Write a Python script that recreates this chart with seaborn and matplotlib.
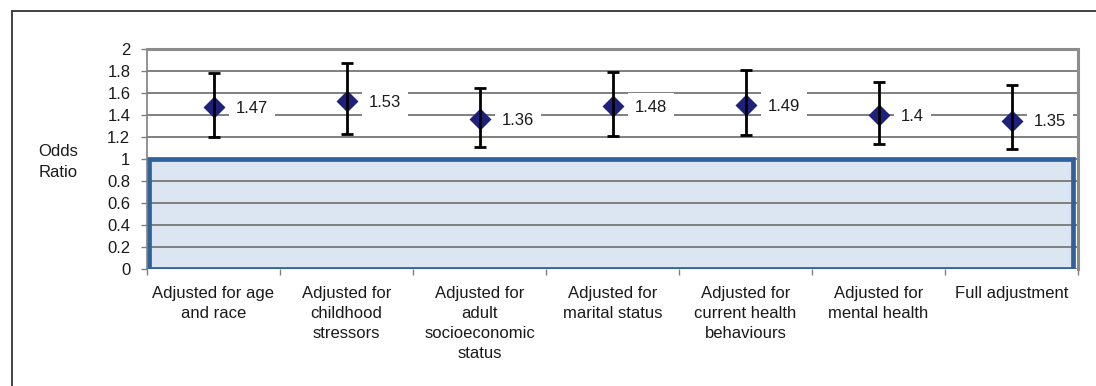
import matplotlib
matplotlib.use("Agg")
import matplotlib.pyplot as plt
from matplotlib.lines import Line2D
import numpy as np
import pandas as pd
import seaborn as sns

# Odds ratios for each adjustment model, with 95% confidence limits
models = [
    "Adjusted for age\nand race",
    "Adjusted for\nchildhood\nstressors",
    "Adjusted for\nadult\nsocioeconomic\nstatus",
    "Adjusted for\nmarital status",
    "Adjusted for\ncurrent health\nbehaviours",
    "Adjusted for\nmental health",
    "Full adjustment",
]
odds_ratio = [1.47, 1.53, 1.36, 1.48, 1.49, 1.40, 1.35]
ci_lower = [1.20, 1.23, 1.11, 1.21, 1.22, 1.14, 1.09]
ci_upper = [1.78, 1.87, 1.65, 1.79, 1.81, 1.70, 1.67]
value_labels = ["1.47", "1.53", "1.36", "1.48", "1.49", "1.4", "1.35"]
y_ticks = [0, 0.2, 0.4, 0.6, 0.8, 1, 1.2, 1.4, 1.6, 1.8, 2]
y_tick_labels = ["0", "0.2", "0.4", "0.6", "0.8", "1", "1.2", "1.4", "1.6", "1.8", "2"]

df = pd.DataFrame({"model": models, "or": odds_ratio,
                   "lo": ci_lower, "hi": ci_upper})

sns.set_theme(style="white")
plt.rcParams["font.family"] = ["Liberation Sans", "DejaVu Sans"]

W, H, DPI = 1096, 386, 100
fig = plt.figure(figsize=(W / DPI, H / DPI), dpi=DPI)
ax = fig.add_axes([147 / W, 1 - 269 / H, (1078 - 147) / W, (269 - 49) / H])

grid_grey = "#808080"
navy = "#1f1f7c"
box_blue = "#31619b"
text_col = "#1a1a1a"
fs = 12
line_sp = 1.43

# shaded region for odds ratios below 1
ax.axhspan(0, 1, xmin=0, xmax=0.997, facecolor="#dce6f2", edgecolor="none", zorder=1)
ax.axhspan(0, 1, xmin=0.002, xmax=0.995, facecolor="none", edgecolor=box_blue,
           linewidth=3.4, zorder=2.2)

# point estimates
sns.pointplot(data=df, x="model", y="or", order=models, linestyle="none",
              markers="D", color=navy, markersize=9, errorbar=None, ax=ax)

# confidence intervals
xpos = np.arange(len(models))
or_arr = np.array(odds_ratio)
yerr = np.vstack([or_arr - np.array(ci_lower), np.array(ci_upper) - or_arr])
ax.errorbar(xpos, or_arr, yerr=yerr, fmt="none", ecolor="black", elinewidth=2,
            capsize=4, capthick=2, zorder=4)
# markers sit on top of the bars
for c in ax.collections:
    c.set_zorder(6)

# value labels on white boxes that interrupt the grid
for x, y, lab in zip(xpos, odds_ratio, value_labels):
    ax.annotate(lab, (x, y), xytext=(16, -1), textcoords="offset points",
                ha="left", va="center", fontsize=fs, color=text_col,
                bbox=dict(boxstyle="square,pad=0.42", facecolor="white",
                          edgecolor="none"), zorder=3)

ax.set_xlim(-0.5, len(models) - 0.5)
ax.set_ylim(0, 2)
ax.set_yticks(y_ticks)
ax.set_yticklabels(y_tick_labels, fontsize=fs, color=text_col)
ax.set_xticks(xpos)
ax.set_xticklabels(models, fontsize=fs, color=text_col, linespacing=line_sp)
ax.set_xticks(np.arange(len(models) + 1) - 0.5, minor=True)
ax.tick_params(axis="x", which="major", length=0, pad=12)
ax.tick_params(axis="x", which="minor", length=4, width=1, color=grid_grey,
               direction="out", bottom=True)
ax.tick_params(axis="y", which="major", length=4, width=1, color=grid_grey,
               direction="out", left=True, pad=8)
ax.set_xlabel("")
ax.set_ylabel("Odds\nRatio", rotation=0, ha="center", va="center",
              fontsize=fs, color=text_col, linespacing=line_sp)
ax.yaxis.set_label_coords(-0.0956, 0.486)

ax.set_axisbelow("line")
ax.yaxis.grid(True, color=grid_grey, linewidth=1.4)
ax.xaxis.grid(False)

for side in ["top", "right"]:
    ax.spines[side].set_visible(True)
    ax.spines[side].set_color("#8c8c8c")
    ax.spines[side].set_linewidth(2.2)
ax.spines["left"].set_color(grid_grey)
ax.spines["left"].set_linewidth(1.2)
ax.spines["bottom"].set_visible(False)

# outer frame (top and left edges)
fig.add_artist(Line2D([11.5 / W, 11.5 / W], [0, 1 - 10.5 / H], transform=fig.transFigure,
                      color="#333333", linewidth=1.3))
fig.add_artist(Line2D([11.5 / W, 1], [1 - 10.5 / H, 1 - 10.5 / H], transform=fig.transFigure,
                      color="#333333", linewidth=1.3))

fig.savefig("out.png", dpi=DPI, facecolor="white")
